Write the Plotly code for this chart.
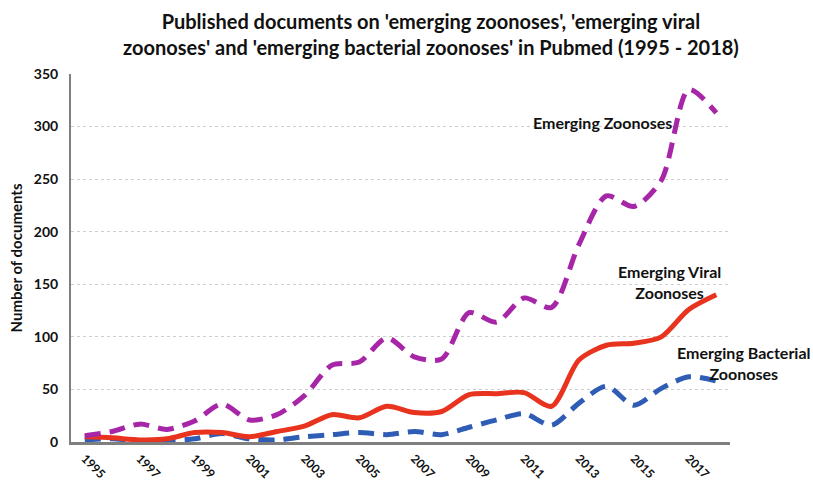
import plotly.graph_objects as go

# Publication counts per year (PubMed searches)
years = list(range(1995, 2019))
emerging_zoonoses = [6, 10, 17, 12, 20, 36, 21, 26, 44, 73, 76, 99, 81, 79,
                     123, 114, 137, 128, 188, 234, 224, 249, 335, 313]
emerging_viral = [5, 4, 2, 3, 9, 9, 5, 10, 15, 26, 23, 34, 28, 29,
                  45, 46, 47, 34, 78, 92, 94, 100, 126, 140]
emerging_bacterial = [2, 3, 1, 1, 3, 8, 3, 2, 5, 7, 9, 7, 10, 7,
                      14, 21, 27, 16, 37, 53, 35, 51, 62, 58]
tick_years = years[::2]
y_ticks = list(range(0, 351, 50))

FONT = "Lato"
INK = "#111111"

fig = go.Figure()
fig.add_trace(go.Scatter(
    x=years, y=emerging_bacterial, mode="lines", name="Emerging Bacterial Zoonoses",
    line=dict(color="#2F5DB5", width=5, dash="16px,9px", shape="spline", smoothing=0.8),
))
fig.add_trace(go.Scatter(
    x=years, y=emerging_viral, mode="lines", name="Emerging Viral Zoonoses",
    line=dict(color="#E8331F", width=5, shape="spline", smoothing=0.8),
))
fig.add_trace(go.Scatter(
    x=years, y=emerging_zoonoses, mode="lines", name="Emerging Zoonoses",
    line=dict(color="#A726A8", width=5, dash="16px,9px", shape="spline", smoothing=0.8),
))

label_font = dict(family=FONT, size=16, color=INK)
fig.add_annotation(x=2013.85, y=304, text="<b>Emerging Zoonoses</b>", showarrow=False,
                   xanchor="center", yanchor="middle", font=label_font)
fig.add_annotation(x=2016.3, y=152, text="<b>Emerging Viral<br>Zoonoses</b>", showarrow=False,
                   xanchor="center", yanchor="middle", font=label_font)
fig.add_annotation(x=2018.5, y=75, xshift=14, text="<b>Emerging Bacterial<br>Zoonoses</b>",
                   showarrow=False, xanchor="center", yanchor="middle", font=label_font)

fig.update_layout(
    width=813, height=484,
    margin=dict(l=71, r=83, t=74, b=42),
    paper_bgcolor="white", plot_bgcolor="white",
    showlegend=False,
    title=dict(
        text="<b>Published documents on 'emerging zoonoses', 'emerging viral<br>"
             "zoonoses' and 'emerging bacterial zoonoses' in Pubmed (1995 - 2018)</b>",
        x=0.53, xanchor="center", yref="container", y=0.94, yanchor="middle",
        font=dict(family=FONT, size=20, color=INK),
    ),
    xaxis=dict(
        range=[1994.5, 2018.5], tickmode="array", tickvals=tick_years,
        ticktext=[f"<b>{y}</b>" for y in tick_years], automargin=False,
        tickangle=45, showgrid=False, showline=True, linecolor="#7F7F7F", linewidth=2.5,
        ticks="", zeroline=False, ticklabelstandoff=2,
        tickfont=dict(family=FONT, size=12, color=INK),
    ),
    yaxis=dict(
        range=[0, 350], tickmode="array", tickvals=y_ticks,
        ticktext=[f"<b>{v}</b>" for v in y_ticks], automargin=False,
        showgrid=True, gridcolor="#CFCFCF", griddash="dot",
        gridwidth=1, showline=True, linecolor="#7F7F7F", linewidth=2, ticks="",
        zeroline=False, ticklabelstandoff=8,
        tickfont=dict(family=FONT, size=14, color=INK),
        title=dict(text="<b>Number of documents</b>", standoff=8,
                   font=dict(family=FONT, size=15, color=INK)),
    ),
)

fig.write_html("out.html")
